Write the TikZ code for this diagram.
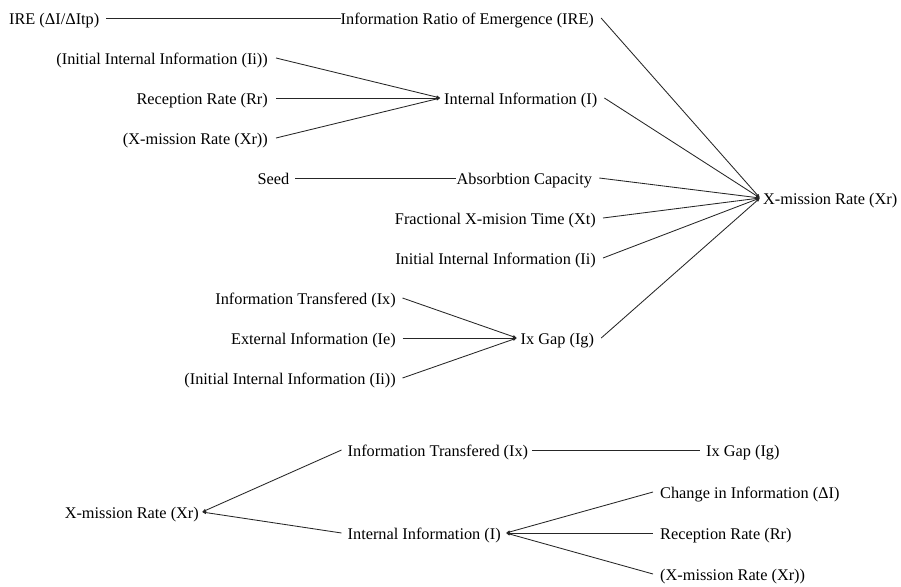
\documentclass[tikz,border=0pt]{standalone}
\usepackage{fontspec}
\setmainfont{Liberation Serif}
\usetikzlibrary{arrows.meta}
\begin{document}
\begin{tikzpicture}[x=1pt,y=-1pt,
  lbl/.style={inner sep=0pt,text height=13.5pt,text depth=-0.5pt,font=\fontsize{16.3}{18}\selectfont},
  src/.style={lbl,anchor=east},
  tgt/.style={lbl,anchor=west},
  link/.style={line width=0.85pt,draw=black!85},
  tip/.style={link,-{Latex[length=4pt,width=3.5pt]}},
  pit/.style={link,{Latex[length=4pt,width=3.5pt]}-}]
\useasboundingbox (0,0) rectangle (901,586);
% ---------- causes tree ----------
\node[src] (ire0) at (99.5,18) {IRE (ΔI/ΔItp)};
\node[tgt] (ire)  at (340.5,18) {Information Ratio of Emergence (IRE)};
\node[src] (ii1)  at (268,58) {(Initial Internal Information (Ii))};
\node[src] (rr1)  at (268,98) {Reception Rate (Rr)};
\node[src] (xr1)  at (268,138) {(X-mission Rate (Xr))};
\node[tgt] (ii)   at (444,98) {Internal Information (I)};
\node[src] (seed) at (289.5,178) {Seed};
\node[tgt] (ac)   at (456.5,178) {Absorbtion Capacity};
\node[src] (xt)   at (596,218) {Fractional X-mision Time (Xt)};
\node[src] (iin)  at (596,258) {Initial Internal Information (Ii)};
\node[src] (ix1)  at (396,298) {Information Transfered (Ix)};
\node[src] (ie1)  at (396,338) {External Information (Ie)};
\node[src] (ii2)  at (396,378) {(Initial Internal Information (Ii))};
\node[tgt] (ig)   at (520.5,338) {Ix Gap (Ig)};
\node[tgt] (xr)   at (763,198) {X-mission Rate (Xr)};

\draw[link] ([xshift=6.5pt]ire0.east) -- (ire.west);
\draw[tip] ([xshift=8pt]ii1.east) -- ([xshift=-3.5pt]ii.west);
\draw[tip] ([xshift=8pt]rr1.east) -- ([xshift=-3.5pt]ii.west);
\draw[tip] ([xshift=8pt]xr1.east) -- ([xshift=-3.5pt]ii.west);
\draw[link] ([xshift=5.5pt]seed.east) -- ([xshift=-1pt]ac.west);
\draw[tip] ([xshift=6.5pt]ix1.east) -- ([xshift=-3.5pt]ig.west);
\draw[tip] ([xshift=6.5pt]ie1.east) -- ([xshift=-3.5pt]ig.west);
\draw[tip] ([xshift=6.5pt]ii2.east) -- ([xshift=-3.5pt]ig.west);
\draw[tip] ([xshift=7pt]ire.east) -- ([xshift=-3pt]xr.west);
\draw[tip] ([xshift=7pt]ii.east) -- ([xshift=-3pt]xr.west);
\draw[tip] ([xshift=7pt]ac.east) -- ([xshift=-3pt]xr.west);
\draw[tip] ([xshift=7pt]xt.east) -- ([xshift=-3pt]xr.west);
\draw[tip] ([xshift=7pt]iin.east) -- ([xshift=-3pt]xr.west);
\draw[tip] ([xshift=7pt]ig.east) -- ([xshift=-3pt]xr.west);
% ---------- uses tree ----------
\node[src] (bxr) at (199,512) {X-mission Rate (Xr)};
\node[tgt] (bix) at (347.5,450) {Information Transfered (Ix)};
\node[tgt] (bii) at (347.5,533) {Internal Information (I)};
\node[tgt] (big) at (706,450) {Ix Gap (Ig)};
\node[tgt] (bdi) at (660,492) {Change in Information (ΔI)};
\node[tgt] (brr) at (660,533) {Reception Rate (Rr)};
\node[tgt] (bx2) at (660,574) {(X-mission Rate (Xr))};

\draw[pit] ([xshift=3pt]bxr.east) -- ([xshift=-6pt]bix.west);
\draw[pit] ([xshift=3pt]bxr.east) -- ([xshift=-6pt]bii.west);
\draw[link] ([xshift=4pt]bix.east) -- ([xshift=-6pt]big.west);
\draw[pit] ([xshift=5pt]bii.east) -- ([xshift=-7pt]bdi.west);
\draw[pit] ([xshift=5pt]bii.east) -- ([xshift=-7pt]brr.west);
\draw[pit] ([xshift=5pt]bii.east) -- ([xshift=-7pt]bx2.west);
\end{tikzpicture}
\end{document}
